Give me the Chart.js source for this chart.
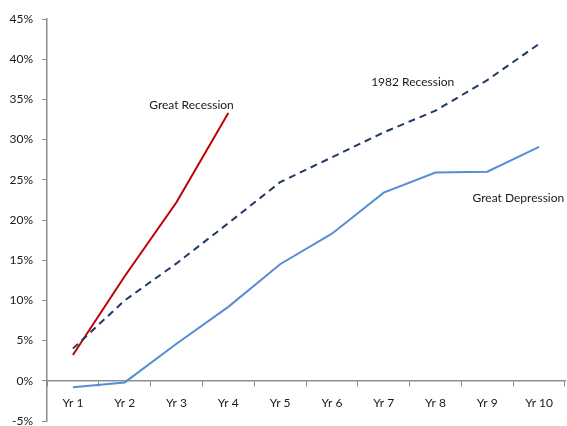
<!DOCTYPE html>
<html>
<head>
<meta charset="utf-8">
<script src="https://cdn.jsdelivr.net/npm/chart.js@4/dist/chart.umd.min.js"></script>
<style>
  html, body { margin: 0; padding: 0; background: #fff; }
  #wrap { width: 567px; height: 426px; }
</style>
</head>
<body>
<div id="wrap"><canvas id="c" width="567" height="426"></canvas></div>
<script>
// Cumulative change by year since the start of each downturn (%)
const years = ['Yr 1', 'Yr 2', 'Yr 3', 'Yr 4', 'Yr 5', 'Yr 6', 'Yr 7', 'Yr 8', 'Yr 9', 'Yr 10'];
const greatRecession = [3.2, 13.0, 22.2, 33.3];
const recession1982 = [4.0, 10.0, 14.6, 19.6, 24.7, 27.8, 30.9, 33.6, 37.4, 41.9];
const greatDepression = [-0.8, -0.2, 4.6, 9.2, 14.5, 18.3, 23.4, 25.9, 26.0, 29.1];
const yTicks = [-5, 0, 5, 10, 15, 20, 25, 30, 35, 40, 45];

const FONT = 'Lato, "Open Sans", sans-serif';
const AXIS = '#8c8c8c';
const TEXT = '#1a1a1a';

// Series names written beside their lines
const seriesLabels = {
  id: 'seriesLabels',
  afterDatasetsDraw(chart) {
    const { ctx, scales: { x, y } } = chart;
    const notes = [
      { text: 'Great Recession', xv: 2.29, yv: 34.3 },
      { text: '1982 Recession', xv: 6.56, yv: 37.2 },
      { text: 'Great Depression', xv: 8.6, yv: 22.7 }
    ];
    ctx.save();
    ctx.font = '12px ' + FONT;
    ctx.fillStyle = TEXT;
    ctx.textAlign = 'center';
    ctx.textBaseline = 'middle';
    notes.forEach(n => {
      const px = x.left + (n.xv + 0.5) * (x.width / years.length);
      ctx.fillText(n.text, px, y.getPixelForValue(n.yv));
    });
    ctx.restore();
  }
};

new Chart(document.getElementById('c'), {
  type: 'line',
  data: {
    labels: years,
    datasets: [
      {
        label: 'Great Depression',
        data: greatDepression,
        borderColor: '#558ED5',
        borderWidth: 2,
        pointRadius: 0,
        tension: 0
      },
      {
        label: '1982 Recession',
        data: recession1982,
        borderColor: '#1F3864',
        borderWidth: 2,
        borderDash: [7, 5],
        pointRadius: 0,
        tension: 0
      },
      {
        label: 'Great Recession',
        data: greatRecession,
        borderColor: '#C00000',
        borderWidth: 2,
        pointRadius: 0,
        tension: 0
      }
    ]
  },
  options: {
    responsive: false,
    animation: false,
    layout: { padding: { top: 19, bottom: 5, left: 0, right: 2 } },
    plugins: {
      legend: { display: false },
      title: { display: false },
      tooltip: { enabled: false }
    },
    scales: {
      x: {
        position: { y: 0 },
        offset: true,
        grid: {
          offset: true,
          drawOnChartArea: false,
          drawTicks: true,
          tickLength: 5,
          color: AXIS,
          lineWidth: 1
        },
        border: { color: AXIS, width: 1.5 },
        ticks: {
          color: TEXT,
          font: { family: FONT, size: 12 },
          padding: 10,
          maxRotation: 0,
          autoSkip: false
        },
        afterFit(scale) {
          scale.paddingLeft = 0;
          scale.paddingRight = 0;
        }
      },
      y: {
        min: -5,
        max: 45,
        afterBuildTicks(scale) {
          scale.ticks = yTicks.map(v => ({ value: v }));
        },
        grid: {
          drawOnChartArea: false,
          drawTicks: true,
          tickLength: 5,
          color: AXIS
        },
        border: { color: AXIS, width: 1.5 },
        ticks: {
          color: TEXT,
          font: { family: FONT, size: 12 },
          padding: 9,
          callback: v => v + '%'
        },
        afterFit(scale) {
          scale.width = 47;
          scale.paddingTop = 0;
          scale.paddingBottom = 0;
        }
      }
    }
  },
  plugins: [seriesLabels]
});
</script>
</body>
</html>
